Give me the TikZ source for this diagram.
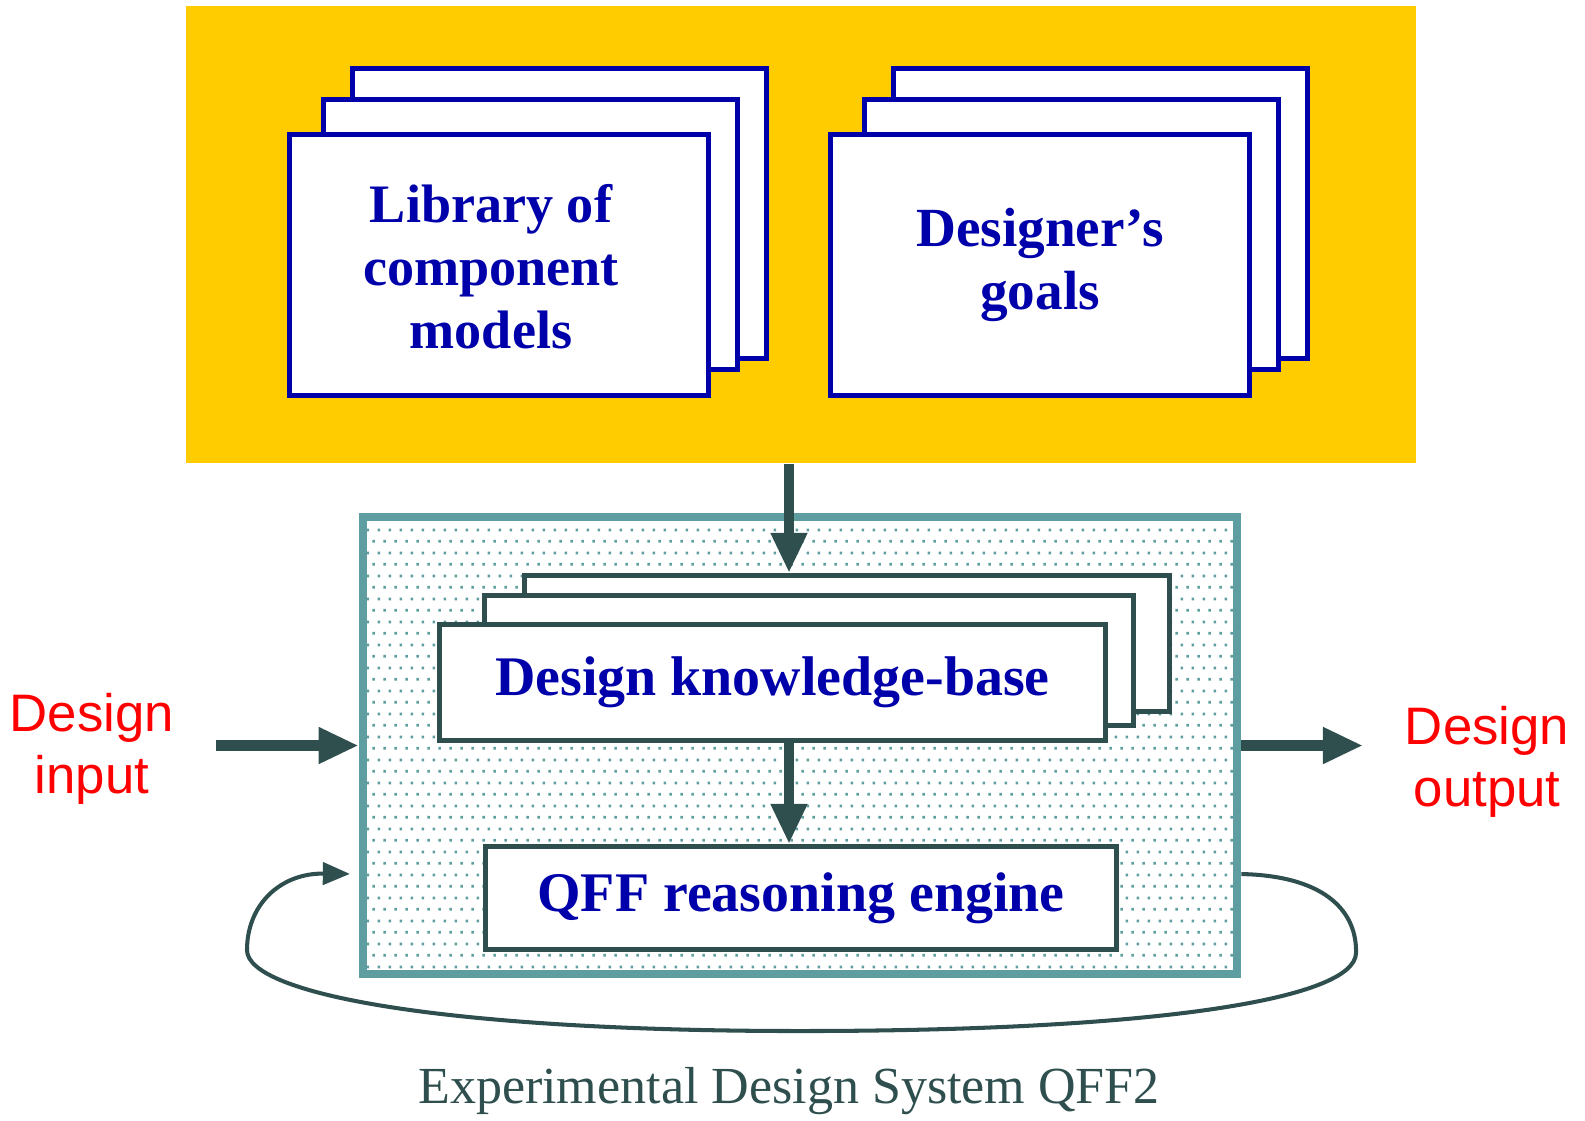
\documentclass[tikz,border=0pt]{standalone}
\usepackage{fontspec}
\setmainfont{Liberation Serif}
\setsansfont{Liberation Sans}
\usetikzlibrary{arrows.meta,positioning,patterns}

\definecolor{panelyellow}{HTML}{FFCC00}
\definecolor{cardblue}{HTML}{0000AA}
\definecolor{systeal}{HTML}{5F9EA0}
\definecolor{slate}{HTML}{2F4F4F}

% staggered dot fill of the system box
\pgfdeclarepatternformonly{sysdots}{\pgfpointorigin}{\pgfqpoint{3.2pt}{6.6pt}}{\pgfqpoint{3.2pt}{6.6pt}}{%
  \pgfpathrectangle{\pgfqpoint{0.4pt}{0.4pt}}{\pgfqpoint{0.8pt}{0.8pt}}%
  \pgfpathrectangle{\pgfqpoint{2.0pt}{3.7pt}}{\pgfqpoint{0.8pt}{0.8pt}}%
  \pgfusepath{fill}%
}

\begin{document}
\begin{tikzpicture}[x=0.01cm, y=-0.01cm,
    card/.style={draw=cardblue, line width=1.4pt, fill=white, text=cardblue,
      font=\bfseries\fontsize{15.7}{17.9}\selectfont, align=center},
    kbcard/.style={card, draw=slate, font=\bfseries\fontsize{15.9}{17.9}\selectfont},
    cardtext/.style={text=cardblue, font=\bfseries\fontsize{15.4}{17.9}\selectfont, align=center},
    sysbox/.style={draw=systeal, line width=2.3pt, pattern=sysdots, pattern color=systeal},
    flow/.style={draw=slate, line width=3pt, -{Triangle[length=11.4pt,width=9.7pt]}},
    feedback/.style={draw=slate, line width=1.15pt, -{Triangle[length=7.7pt,width=6.3pt]}},
    iolabel/.style={text=red, font=\sffamily\fontsize{15}{17.8}\selectfont, align=center, inner sep=0pt},
    ]
    \useasboundingbox (0,0) rectangle (1585,1120);

    % sources
    \node [fill=panelyellow, minimum width=12.30cm, minimum height=4.57cm] (panel) at (801,234.5) {};
    \node [card, minimum width=4.14cm, minimum height=2.90cm] (lib3) at (559.5,213.5) {};
    \node [card, minimum width=4.14cm, minimum height=2.70cm] (lib2) at (530.5,234.5) {};
    \node [card, minimum width=4.19cm, minimum height=2.61cm] (lib1) at (499,265) {};
    \node [cardtext] (libtext) at (491,267) {Library of\\component\\models};
    \node [card, minimum width=4.14cm, minimum height=2.90cm] (goal3) at (1100.5,213.5) {};
    \node [card, minimum width=4.14cm, minimum height=2.70cm] (goal2) at (1071.5,234.5) {};
    \node [card, minimum width=4.19cm, minimum height=2.61cm] (goal1) at (1040,265) {Designer's\\goals};

    % design system
    \node [sysbox, minimum width=8.74cm, minimum height=4.57cm] (sys) at (800,745.5) {};
    \node [kbcard, minimum width=6.45cm, minimum height=1.36cm] (kb3) at (847,643.5) {};
    \node [kbcard, minimum width=6.49cm, minimum height=1.30cm] (kb2) at (809,660.5) {};
    \node [kbcard, minimum width=6.66cm, minimum height=1.16cm] (kb1) at (772.5,682.5) {Design knowledge-base};
    \node [kbcard, minimum width=6.31cm, minimum height=1.03cm] (qff) at (801,898) {QFF reasoning engine};

    \node [iolabel] (din) at (92,749) {Design\\input};
    \node [iolabel] (dout) at (1487,762) {Design\\output};
    \node [text=slate, font=\fontsize{14.8}{18}\selectfont, anchor=base] (caption) at (789,1103) {Experimental Design System QFF2};

    \coordinate (spine) at (789,0);
    \coordinate (fb) at (0,874);

    % connectors
    \draw [flow] (panel.south -| spine) -- (kb3.north -| spine);
    \draw [flow] (kb1.south -| spine) -- (qff.north -| spine);
    \draw [flow, shorten <=11.7pt] (din.east |- sys.west) -- (sys.west);
    \draw [flow, shorten >=11.7pt] (sys.east) -- (sys.east -| dout.west);
    \draw [feedback, shorten >=2.5pt] (sys.east |- fb) .. controls (1330,876) and (1357,915) .. (1356,953)
      .. controls (1355,1000) and (1150,1031) .. (800,1031)
      .. controls (450,1031) and (247,995) .. (247,950)
      .. controls (247,905) and (280,873) .. (sys.west |- fb);
\end{tikzpicture}
\end{document}
